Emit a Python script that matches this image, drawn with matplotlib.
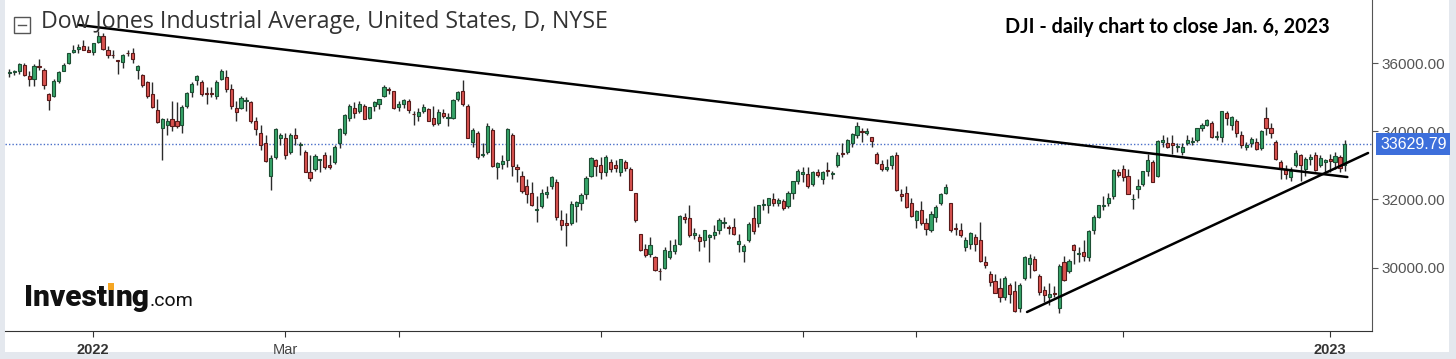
import matplotlib
matplotlib.use("Agg")
import matplotlib.pyplot as plt
import matplotlib.transforms as mtransforms
from matplotlib.patches import Rectangle
import numpy as np

# DJI daily candles, 8 Dec 2021 .. 6 Jan 2023 (one row per month)
opens = [
    35720, 35750, 35780, 35950, 35620, 35550, 35930, 35800, 35100, 35050, 35470, 35780, 36000, 36320, 36420, 36500, 36400,
    36320, 36640, 36800, 36390, 36250, 36100, 36050, 36300, 36300, 35800, 35650, 35450, 35100, 34640, 34100, 34200, 34350, 34300, 34200, 34750,
    35150, 35500, 35450, 35100, 35100, 35050, 35550, 35600, 35250, 34700, 34700, 34900, 34850, 34300, 33950, 33650, 32700, 33250, 33800,
    33800, 33400, 33900, 33600, 33400, 32800, 32900, 33150, 33300, 33000, 33100, 33650, 33950, 34400, 34700, 34600, 34750, 34400, 34750, 34800, 35050, 35250, 35200,
    34730, 34800, 34900, 34500, 34450, 34600, 34650, 34400, 34250, 34550, 34400, 34400, 34950, 35200, 34750, 33700, 33950, 33300, 33400, 34050,
    32950, 33050, 33150, 33900, 32950, 32700, 32400, 32200, 31700, 31800, 32150, 32400, 32500, 31400, 31300, 31300, 31800, 31900, 32150, 32700, 33150,
    33000, 32800, 33100, 33000, 32800, 33100, 32900, 32200, 31000, 30550, 30400, 30300, 29900, 30000, 30300, 30500, 30700, 31500, 31450, 30950, 30900,
    30800, 30900, 30950, 31100, 31300, 31200, 31200, 30700, 30500, 30800, 31450, 31300, 31850, 31850, 32000, 31900, 31950, 31800, 32200, 32550,
    32750, 32750, 32450, 32800, 32600, 32850, 32750, 33000, 33350, 33400, 33650, 33900, 34000, 33950, 33850, 33350, 33050, 32900, 33000, 33300, 32150, 32200, 31900,
    31400, 31700, 31300, 31100, 31500, 31900, 32200, 31900, 31150, 31100, 30600, 30700, 30900, 30800, 30150, 29800, 29600, 29400, 29150, 29500, 29300,
    28800, 29700, 30100, 30250, 29750, 29350, 29150, 29250, 28800, 30150, 29900, 30650, 30400, 30450, 30300, 31100, 31500, 31800, 31900, 32100, 32800,
    32900, 32700, 32000, 32300, 32450, 32850, 33100, 32700, 33700, 33650, 33650, 33550, 33400, 33650, 33700, 33750, 34100, 34200, 34250, 33850, 33850,
    34550, 34200, 34300, 33900, 33550, 33650, 33700, 33500, 34400, 34100, 33700, 33100, 32900, 32650, 33000, 33300, 32900, 33200, 33300, 33000, 33100,
    33200, 33100, 33250, 33000,
]
highs = [
    35840, 35800, 36000, 36000, 35770, 35980, 36120, 35860, 35130, 35540, 35780, 36000, 36310, 36530, 36570, 36680, 36500,
    36600, 36950, 36900, 36500, 36380, 36100, 36260, 36400, 36450, 35950, 35700, 35480, 35460, 34940, 34400, 34400, 34900, 34850, 34770, 35170,
    35450, 35650, 35500, 35300, 35300, 35500, 35830, 35800, 35400, 34900, 35030, 35000, 34900, 34420, 34200, 33900, 33300, 34100, 33950,
    33950, 33950, 34100, 33700, 33450, 33300, 33350, 33200, 33400, 33300, 33600, 34100, 34500, 34800, 34850, 34900, 34800, 34720, 34900, 34960, 35370, 35300, 35200,
    34890, 34950, 34950, 34600, 34700, 34800, 34700, 34750, 34650, 34650, 34550, 34950, 35200, 35500, 34800, 34100, 34000, 33650, 34250, 34100,
    33100, 33300, 34100, 33950, 33050, 32850, 32600, 32500, 32100, 32300, 32400, 32700, 32600, 31700, 31600, 31950, 31950, 32200, 32700, 33250, 33200,
    33250, 33300, 33200, 33150, 33200, 33150, 32950, 32200, 31000, 30700, 30900, 30350, 30000, 30600, 30800, 30850, 31550, 31600, 31850, 31150, 31000,
    31100, 31000, 31250, 31450, 31500, 31250, 31450, 31000, 30700, 31350, 31800, 31850, 32000, 32050, 32200, 32050, 32000, 32250, 32550, 32900,
    32950, 32950, 32850, 32900, 32850, 33100, 32850, 33400, 33650, 33780, 33950, 34280, 34100, 34100, 33850, 33400, 33150, 33200, 33300, 33400, 32300, 32400, 32050,
    31700, 31950, 31450, 31650, 31850, 32200, 32450, 31900, 31300, 31300, 30900, 31050, 31000, 31350, 30350, 29900, 29800, 29700, 29750, 29550, 29600,
    29550, 30350, 30400, 30350, 29800, 29450, 29550, 29450, 30100, 30350, 30250, 30700, 30600, 30800, 31100, 31550, 31850, 32100, 32200, 32900, 32900,
    33000, 32900, 32150, 32600, 32850, 33350, 33150, 33750, 33900, 33850, 33900, 33650, 33650, 33900, 33850, 34100, 34250, 34350, 34300, 34000, 34600,
    34600, 34450, 34350, 34000, 33700, 33850, 33800, 34050, 34712, 34250, 33750, 33150, 33000, 32950, 33450, 33350, 33250, 33350, 33400, 33300, 33200,
    33350, 33400, 33300, 33750,
]
lows = [
    35600, 35660, 35700, 35620, 35340, 35320, 35800, 35250, 34620, 35000, 35420, 35760, 35990, 36300, 36310, 36380, 36320,
    36250, 36600, 36400, 36150, 36150, 35700, 35870, 36210, 36000, 35550, 35300, 34990, 34680, 34240, 33150, 33900, 34000, 34100, 33950, 34700,
    35000, 35350, 35050, 34800, 35000, 34950, 35500, 35150, 34650, 34300, 34650, 34600, 34250, 33900, 33450, 33100, 32270, 33200, 33600,
    33200, 33350, 33600, 33300, 32800, 32550, 32850, 32800, 32900, 32900, 33050, 33500, 33900, 34300, 34400, 34550, 34350, 34350, 34600, 34650, 35000, 35100, 34670,
    34600, 34700, 34550, 34200, 34300, 34550, 34300, 34150, 34200, 34400, 34150, 34350, 34900, 34750, 33800, 33550, 33200, 33250, 33350, 32950,
    32600, 32900, 32950, 32700, 32500, 32200, 31900, 31800, 31350, 31750, 32050, 32300, 31400, 31100, 30630, 31250, 31350, 31700, 32000, 32650, 32700,
    32600, 32700, 32800, 32800, 32700, 32850, 32270, 31350, 30500, 30300, 30300, 29900, 29650, 29950, 30250, 30400, 30650, 31300, 30900, 30850, 30500,
    30600, 30150, 30850, 31000, 31150, 31000, 30950, 30450, 30150, 30750, 31000, 31200, 31700, 31600, 31800, 31800, 31700, 31750, 32000, 32450,
    32500, 32350, 32400, 32650, 32450, 32700, 32600, 32950, 33250, 33350, 33550, 33800, 33700, 33900, 33550, 33050, 32850, 32850, 32900, 32250, 31950, 31750, 31500,
    31150, 31250, 30950, 31050, 31350, 31850, 32150, 31050, 30950, 30900, 30500, 30550, 30500, 30150, 30000, 29450, 29250, 29000, 29050, 28950, 28700,
    28700, 29650, 29700, 29900, 29200, 29000, 28900, 29150, 28660, 29600, 29850, 30100, 30150, 30200, 30200, 31000, 31450, 31700, 31800, 32000, 32650,
    32550, 32150, 31730, 32050, 32400, 32700, 32500, 32650, 33550, 33500, 33350, 33400, 33300, 33600, 33600, 33700, 34000, 34150, 33800, 33750, 33700,
    34200, 34050, 33850, 33500, 33450, 33550, 33450, 33450, 33900, 33800, 33150, 32600, 32600, 32550, 32950, 32550, 32700, 33000, 32850, 32950, 32800,
    32800, 32900, 32800, 32850,
]
closes = [
    35755, 35755, 35971, 35651, 35544, 35927, 35898, 35365, 34932, 35493, 35754, 35951, 36302, 36398, 36489, 36398, 36338,
    36585, 36800, 36407, 36236, 36232, 36069, 36252, 36290, 36114, 35912, 35368, 35029, 34715, 34265, 34365, 34298, 34168, 34161, 34725, 35132,
    35405, 35629, 35111, 35090, 35091, 35463, 35768, 35242, 34738, 34566, 34989, 34934, 34312, 34079, 33597, 33132, 33224, 34059, 33893,
    33295, 33891, 33795, 33615, 32817, 32633, 33286, 33174, 32944, 32945, 33544, 34063, 34481, 34755, 34553, 34807, 34359, 34708, 34861, 34956, 35294, 35229, 34678,
    34818, 34922, 34641, 34497, 34584, 34721, 34308, 34220, 34565, 34451, 34412, 34911, 35161, 34793, 33811, 34049, 33240, 33302, 34160, 32977,
    33062, 33129, 34061, 32998, 32899, 32246, 32161, 31834, 31730, 32197, 32223, 32655, 31490, 31253, 31262, 31880, 31929, 32120, 32637, 33213, 32990,
    32813, 33248, 32900, 32916, 33180, 32911, 32273, 31393, 30517, 30365, 30669, 29927, 29889, 30530, 30483, 30677, 31501, 31438, 30947, 31029, 30775,
    31097, 30968, 31038, 31385, 31338, 31174, 30981, 30773, 30630, 31288, 31073, 31827, 31875, 32037, 31899, 31990, 31762, 32198, 32530, 32845,
    32798, 32396, 32813, 32727, 32803, 32833, 32774, 33310, 33337, 33761, 33912, 34152, 33980, 33999, 33707, 33064, 32910, 32969, 33292, 32283, 32099, 31791, 31510,
    31656, 31318, 31145, 31581, 31775, 32152, 32381, 31105, 31135, 30962, 30822, 31020, 30706, 30184, 30077, 29590, 29261, 29135, 29684, 29226, 28726,
    29491, 30316, 30274, 29927, 29297, 29203, 29239, 29211, 30039, 29635, 30186, 30524, 30424, 30334, 31083, 31500, 31837, 31839, 32033, 32862, 32733,
    32653, 32148, 32001, 32403, 32827, 33161, 32514, 33715, 33748, 33537, 33593, 33554, 33546, 33746, 33700, 34098, 34194, 34347, 33849, 33853, 34590,
    34395, 34430, 33947, 33596, 33598, 33781, 33476, 34005, 34109, 33966, 33202, 32920, 32758, 32850, 33376, 33027, 33204, 33242, 32876, 33221, 33147,
    33136, 33270, 32930, 33631,
]
last_price = 33629.79

# x ticks (candle index of first session of the month)
tick_idx = [17, 56, 79, 120, 161, 184, 226, 268]
tick_lbl = ["2022", "Mar", "", "", "", "", "", "2023"]
y_ticks = [30000, 32000, 34000, 36000]

# hand drawn trend lines (candle index, price)
down_line = ([14.1, 271.5], [37125, 32660])
up_line = ([206.5, 275.7], [28696, 33366])

W, H = 1456, 359
fig = plt.figure(figsize=(W / 100, H / 100), dpi=100)
fig.patch.set_facecolor("white")

def fx(px):
    return px / W

def fy(py):
    return 1 - py / H

ax = fig.add_axes([fx(5), fy(331), fx(1372) - fx(5), fy(0) - fy(331)])
ax.set_facecolor("white")

o = np.array(opens, float)
h = np.array(highs, float)
l = np.array(lows, float)
c = np.array(closes, float)
x = np.arange(len(c))

ax.vlines(x, l, h, color="#2b2b2b", lw=1, zorder=2)
up = c >= o
body = np.maximum(np.abs(c - o), 25)
bottom = np.minimum(o, c)
ax.bar(x[up], body[up], bottom=bottom[up], width=0.64, color="#36a468",
       edgecolor="#1d4f34", lw=0.8, zorder=3)
ax.bar(x[~up], body[~up], bottom=bottom[~up], width=0.64, color="#d9534f",
       edgecolor="#5a1a1a", lw=0.8, zorder=3)

ax.plot(*down_line, color="black", lw=1.8, zorder=4, solid_capstyle="round")
ax.plot(*up_line, color="black", lw=1.8, zorder=4, solid_capstyle="round")
ax.axhline(last_price, color="#4a6fc9", lw=1, ls=(0, (1, 1.5)), zorder=1)

ax.set_xlim(-0.9, 276.5)
ax.set_ylim(28138, 37859)

for s in ["top", "left"]:
    ax.spines[s].set_visible(False)
ax.spines["bottom"].set_color("#333333")
ax.spines["right"].set_color("#555555")

ax.yaxis.tick_right()
ax.set_yticks(y_ticks)
ax.set_yticklabels(["%.2f" % v for v in y_ticks])
ax.tick_params(axis="y", colors="#555555", labelsize=11, length=4, pad=3,
               labelcolor="#555555")
for t in ax.get_yticklabels():
    t.set_family("Liberation Sans")

ax.set_xticks(tick_idx)
ax.set_xticklabels(tick_lbl)
ax.tick_params(axis="x", colors="#333333", length=4, pad=5, labelsize=10.5)
for t in ax.get_xticklabels():
    t.set_family("Liberation Sans")
    if t.get_text() in ("2022", "2023"):
        t.set_fontweight("bold")
    else:
        t.set_color("#444444")

# last price marker
trans = mtransforms.blended_transform_factory(ax.transAxes, ax.transData)
ax.text(1.0 + 8 / (1372 - 5), last_price, "33629.79", transform=trans,
        ha="left", va="center", color="white", fontsize=11.5,
        family="Liberation Sans", clip_on=False, zorder=6,
        bbox=dict(boxstyle="square,pad=0.22", fc="#3d6fdb", ec="none"))

# title with collapse icon
fig.add_artist(Rectangle((fx(14), fy(33)), fx(16) - fx(0), fy(17) - fy(33),
                         transform=fig.transFigure, fill=False, ec="#555555", lw=1))
fig.add_artist(plt.Line2D([fx(18), fx(26)], [fy(25), fy(25)],
                          transform=fig.transFigure, color="#555555", lw=1))
fig.text(fx(41), fy(22), "Dow Jones Industrial Average, United States, D, NYSE",
         ha="left", va="center", fontsize=16.7, color="#333333", family="Open Sans")

fig.text(fx(1005), fy(27), "DJI - daily chart to close Jan. 6, 2023",
         ha="left", va="center", fontsize=14.3, fontweight="bold",
         color="black", family="Lato")

# Investing.com logo
base = fy(306)
t1 = fig.text(fx(24), base, "Invest", ha="left", va="baseline", fontsize=21.5,
              fontweight="heavy", color="#111111", family="Roboto")
t2 = fig.text(0, base, "i", ha="left", va="baseline", fontsize=21.5,
              fontweight="heavy", color="#111111", family="Roboto")
t3 = fig.text(0, base, "ng", ha="left", va="baseline", fontsize=21.5,
              fontweight="heavy", color="#111111", family="Roboto")
t4 = fig.text(0, base, ".com", ha="left", va="baseline", fontsize=14,
              color="#111111", family="Roboto")
fig.canvas.draw()
r = fig.canvas.get_renderer()
prev = t1
for t in (t2, t3, t4):
    bb = prev.get_window_extent(r)
    t.set_x(bb.x1 / W)
    fig.canvas.draw()
    prev = t
bb = t2.get_window_extent(r)
cx = (bb.x0 + bb.x1) / 2
fig.add_artist(Rectangle(((cx - 3) / W, fy(290)), 6 / W, 7 / H,
                         transform=fig.transFigure, fc="#f5a623", ec="none",
                         zorder=10))

# light grey frame of the screenshot
fig.add_artist(Rectangle((0, 0), fx(5), 1, transform=fig.transFigure,
                         fc="#e4e8ee", ec="none", zorder=-1))
fig.add_artist(Rectangle((fx(1449), 0), fx(7), 1, transform=fig.transFigure,
                         fc="#e4e8ee", ec="none", zorder=-1))
fig.add_artist(Rectangle((0, 0), 1, fy(352), transform=fig.transFigure,
                         fc="#e4e8ee", ec="none", zorder=-1))

fig.savefig("out.png", dpi=100, facecolor="white")
